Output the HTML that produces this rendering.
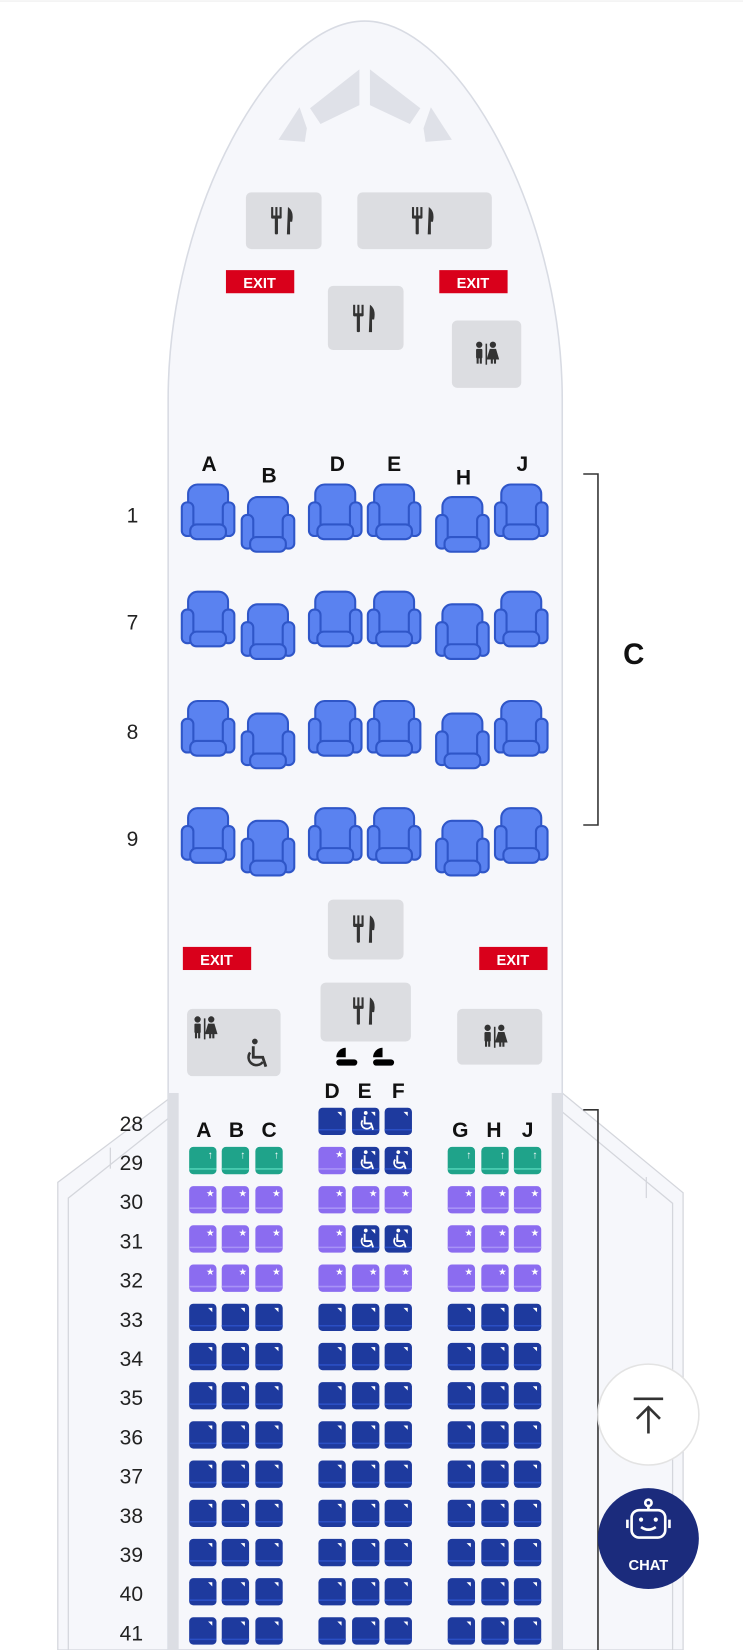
<!DOCTYPE html>
<html><head><meta charset="utf-8"><style>
html,body{margin:0;padding:0;background:#fff;width:743px;height:1650px;overflow:hidden}
svg{display:block}
text{font-family:"Liberation Sans",sans-serif}
</style></head><body>
<svg id="s" width="743" height="1650" viewBox="0 0 707 1570" xmlns="http://www.w3.org/2000/svg">
<defs>
<g id="bs">
<rect x="7" y="0" width="38" height="44" rx="9" fill="#5a82f0" stroke="#2f56c8" stroke-width="2"/>
<rect x="1" y="17" width="11" height="32" rx="5" fill="#5a82f0" stroke="#2f56c8" stroke-width="2"/>
<rect x="40" y="17" width="11" height="32" rx="5" fill="#5a82f0" stroke="#2f56c8" stroke-width="2"/>
<rect x="9" y="38" width="34" height="14" rx="6" fill="#5a82f0" stroke="#2f56c8" stroke-width="2"/>
</g>
<g id="lav" fill="#333">
<circle cx="4" cy="3" r="3"/><rect x="1" y="7" width="6" height="9" rx="1"/><rect x="1.5" y="14" width="2" height="7"/><rect x="4.5" y="14" width="2" height="7"/>
<rect x="10" y="2" width="1.5" height="20"/>
<circle cx="17" cy="3" r="3"/><path d="M14,7 h6 l3,10 h-12 z"/><rect x="15" y="16" width="2" height="5"/><rect x="18" y="16" width="2" height="5"/>
</g>
<g id="gal" fill="#333">
<rect x="0" y="0" width="2" height="9"/><rect x="4" y="0" width="2" height="9"/><rect x="8" y="0" width="2" height="9"/>
<rect x="0" y="8" width="10" height="3" rx="1"/><rect x="3.5" y="10" width="3" height="16" rx="1"/>
<path d="M16,0 q6,4 4,14 h-2 v12 h-3 z"/>
</g>
<g id="wc" fill="none" stroke="currentColor">
<circle cx="7" cy="2" r="1.8" fill="currentColor" stroke="none"/>
<path d="M6,5 v7 h6 l2,6" stroke-width="1.8"/>
<path d="M4,9 a5,5 0 1 0 8,6" stroke-width="1.6"/>
</g>
</defs>
<rect width="707" height="1570" fill="#fff"/>
<line x1="0" y1="1" x2="707" y2="1" stroke="#eee"/>
<!-- wings -->
<g fill="#f6f7fb" stroke="#d4d6dc" stroke-width="1.2">
<polygon points="168,1040 55,1125 55,1570 168,1570"/>
<polygon points="535,1040 650,1135 650,1570 535,1570"/>
</g>
<g stroke="#d4d6dc" stroke-width="1.2" fill="none">
<polyline points="168,1058 65,1140 65,1570"/>
<polyline points="105,1092 105,1112"/>
<polyline points="535,1058 640,1145 640,1570"/>
<polyline points="615,1120 615,1140"/>
</g>
<!-- fuselage -->
<path d="M160,1570 L160,380 C160,200 260,20 347,20 C434,20 535,200 535,380 L535,1570 Z" fill="#f6f7fb" stroke="#d8dbe3" stroke-width="1.5"/>
<rect x="160" y="1040" width="10" height="530" fill="#dcdee4"/>
<rect x="525" y="1040" width="10" height="530" fill="#dcdee4"/>
<!-- cockpit windows -->
<g fill="#dfe1e8">
<polygon points="295,103 342,66 342,100 305,118"/>
<polygon points="352,66 400,103 390,118 352,100"/>
<polygon points="265,133 285,102 292,122 290,135"/>
<polygon points="430,133 410,102 403,122 405,135"/>
</g>
<!-- galleys -->
<g fill="#dcdde1">
<rect x="234" y="183" width="72" height="54" rx="5"/>
<rect x="340" y="183" width="128" height="54" rx="5"/>
<rect x="312" y="272" width="72" height="61" rx="5"/>
<rect x="430" y="305" width="66" height="64" rx="5"/>
<rect x="312" y="856" width="72" height="57" rx="5"/>
<rect x="305" y="935" width="86" height="56" rx="5"/>
<rect x="178" y="960" width="89" height="64" rx="5"/>
<rect x="435" y="960" width="81" height="53" rx="5"/>
</g>
<use href="#gal" x="258" y="197"/><use href="#gal" x="392" y="197"/><use href="#gal" x="336" y="290"/>
<use href="#gal" x="336" y="871"/><use href="#gal" x="336" y="949"/>
<use href="#lav" x="452" y="325"/><use href="#lav" x="184" y="967"/><use href="#lav" x="460" y="975"/>
<use href="#wc" x="232" y="988" color="#333" transform="translate(-116,-494) scale(1.5)"/>
<!-- exits -->
<g fill="#d9001b">
<rect x="215" y="257" width="65" height="22"/><rect x="418" y="257" width="65" height="22"/>
<rect x="174" y="901" width="65" height="22"/><rect x="456" y="901" width="65" height="22"/>
</g>
<g fill="#fff" font-size="14" font-weight="bold" text-anchor="middle">
<text x="247" y="274">EXIT</text><text x="450" y="274">EXIT</text>
<text x="206" y="918">EXIT</text><text x="488" y="918">EXIT</text>
</g>
<!-- bassinets -->
<g fill="#000">
<path d="M320,1006 a9,9 0 0 1 9,-9 v9 z"/><rect x="320" y="1008" width="20" height="6" rx="3"/>
<path d="M355,1006 a9,9 0 0 1 9,-9 v9 z"/><rect x="355" y="1008" width="20" height="6" rx="3"/>
</g>
<!-- business labels -->
<g font-size="20" font-weight="bold" fill="#111" text-anchor="middle">
<text x="199" y="448">A</text><text x="256" y="459">B</text><text x="321" y="448">D</text><text x="375" y="448">E</text><text x="441" y="461">H</text><text x="497" y="448">J</text>
</g>
<g font-size="20" fill="#222" text-anchor="middle">
<text x="126" y="497">1</text><text x="126" y="599">7</text><text x="126" y="703">8</text><text x="126" y="805">9</text>
</g>
<g id="biz"></g>
<!-- bracket -->
<g stroke="#333" stroke-width="1.5" fill="none">
<polyline points="555,451 569,451 569,785 555,785"/>
<polyline points="555,1056 569,1056 569,1570"/>
</g>
<text x="603" y="632" font-size="28" font-weight="bold" text-anchor="middle" fill="#111">C</text>
<!-- eco labels -->
<g font-size="20" font-weight="bold" fill="#111" text-anchor="middle">
<text x="194" y="1082">A</text><text x="225" y="1082">B</text><text x="256" y="1082">C</text>
<text x="316" y="1045">D</text><text x="347" y="1045">E</text><text x="379" y="1045">F</text>
<text x="438" y="1082">G</text><text x="470" y="1082">H</text><text x="502" y="1082">J</text>
</g>
<g id="eco"></g>
<!-- buttons -->
<circle cx="617" cy="1346" r="48" fill="#fff" stroke="#e3e3e3" stroke-width="1.5"/>
<g stroke="#333" stroke-width="2.5" fill="none"><line x1="603" y1="1331" x2="631" y2="1331"/><line x1="617" y1="1339" x2="617" y2="1364"/><polyline points="606,1350 617,1339 628,1350"/></g>
<circle cx="617" cy="1464" r="48" fill="#1b2b7c"/>
<g stroke="#fff" stroke-width="2.5" fill="none"><rect x="601" y="1437" width="32" height="26" rx="7"/><circle cx="617" cy="1430" r="3"/><line x1="617" y1="1433" x2="617" y2="1437"/><line x1="597" y1="1446" x2="597" y2="1454"/><line x1="637" y1="1446" x2="637" y2="1454"/><path d="M610,1453 q7,5 14,0"/></g>
<circle cx="610" cy="1446" r="2" fill="#fff"/><circle cx="624" cy="1446" r="2" fill="#fff"/>
<text x="617" y="1494" font-size="14" font-weight="bold" fill="#fff" text-anchor="middle">CHAT</text>
</svg>
<script>
var NS="http://www.w3.org/2000/svg";
function el(p,t,a,txt){var e=document.createElementNS(NS,t);for(var k in a)e.setAttribute(k,a[k]);if(txt)e.textContent=txt;p.appendChild(e);return e;}
var biz=document.getElementById('biz');
var bx=[[172,0],[229,12],[293,0],[349,0],[414,12],[470,0]];
[461,563,667,769].forEach(function(y){bx.forEach(function(b){el(biz,'use',{href:'#bs',x:b[0],y:y+b[1]});});});
var eco=document.getElementById('eco');
var cols=[180,211,243,303,335,366,426,458,489];
var colors={n:['#1e3a9e','#2b4fc4'],p:['#8b6cf0','#a892f7'],g:['#1fa38a','#4fd0b4']};
function seat(x,y,t,ic){var c=colors[t];
el(eco,'rect',{x:x,y:y,width:26,height:26,rx:4,fill:c[0]});
el(eco,'line',{x1:x,y1:y+21,x2:x+26,y2:y+21,stroke:c[1],'stroke-width':1.5});
if(t=='n')el(eco,'path',{d:'M'+(x+18)+','+(y+4)+' h4 v4 z',fill:'#fff'});
if(t=='p')el(eco,'text',{x:x+20,y:y+10,'font-size':9,fill:'#fff','text-anchor':'middle'},'★');
if(t=='g')el(eco,'text',{x:x+20,y:y+11,'font-size':10,fill:'#fff','text-anchor':'middle','font-weight':'bold'},'↑');
if(ic=='w')el(eco,'use',{href:'#wc',x:x+6,y:y+3,color:'#fff'});}
var rows=[28,29,30,31,32,33,34,35,36,37,38,39,40,41];
var lab=document.getElementById('s');
rows.forEach(function(r,i){var y=1054+i*37.3;
el(lab,'text',{x:125,y:y+22,'font-size':20,fill:'#222','text-anchor':'middle'},String(r));
cols.forEach(function(x,j){
 var t='n',ic='';
 if(r==28){if(j<3||j>5)return; if(j==4)ic='w';}
 else if(r==29){t=(j==3)?'p':(j>5||j<3)?'g':'n'; if(j==4||j==5)ic='w';}
 else if(r<=32){t='p'; if(r==31&&(j==4||j==5)){t='n';ic='w';}}
 seat(x,y,t,ic);
});});
</script>
</body></html>
